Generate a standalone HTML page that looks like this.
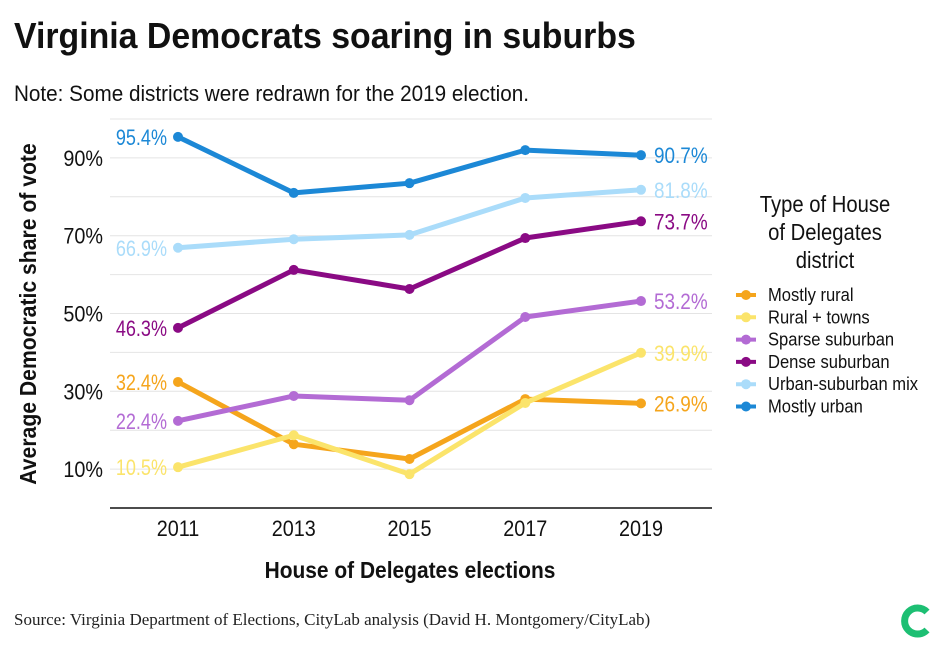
<!DOCTYPE html>
<html><head><meta charset="utf-8"><style>
body{margin:0;background:#fff;width:940px;height:648px;overflow:hidden;font-family:"Liberation Sans",sans-serif}
svg text{font-family:"Liberation Sans",sans-serif}
</style></head><body>
<svg id="svg" width="940" height="648">
<text class="cz" data-f="0.94" x="14" y="48" font-size="36" font-weight="bold" fill="#111">Virginia Democrats soaring in suburbs</text>
<text class="cz" data-f="0.94" x="14" y="101" font-size="22" fill="#111">Note: Some districts were redrawn for the 2019 election.</text>
<g id="grid"></g>
<g id="series"></g>
<text class="cz" data-f="0.92" transform="translate(36,314) rotate(-90)" text-anchor="middle" font-size="23" font-weight="bold" fill="#111">Average Democratic share of vote</text>
<text class="cz" data-f="0.91" x="410" y="578" text-anchor="middle" font-size="23" font-weight="bold" fill="#111">House of Delegates elections</text>
<g>
<text class="cz" data-f="0.88" x="825" y="212" text-anchor="middle" font-size="23" fill="#111">Type of House</text>
<text class="cz" data-f="0.88" x="825" y="240" text-anchor="middle" font-size="23" fill="#111">of Delegates</text>
<text class="cz" data-f="0.88" x="825" y="268" text-anchor="middle" font-size="23" fill="#111">district</text>
</g>
<g id="legend"></g>
<text x="14" y="625" font-size="17" fill="#222" style="font-family:'Liberation Serif',serif">Source: Virginia Department of Elections, CityLab analysis (David H. Montgomery/CityLab)</text>
<path d="M927 612 A13 13 0 1 0 927 630" fill="none" stroke="#1dbf73" stroke-width="7"/>
</svg>
<script>
const years=[2011,2013,2015,2017,2019];
const yTicks=[10,30,50,70,90];
const names=["Mostly rural","Rural + towns","Sparse suburban","Dense suburban","Urban-suburban mix","Mostly urban"];
const colors=["#f5a51c","#fbe46b","#b36bd4","#8a0a84","#aadcfa","#1c88d6"];
const rural=[32.4,16.4,12.6,28.0,26.9];
const ruralTowns=[10.5,18.7,8.7,27.0,39.9];
const sparse=[22.4,28.8,27.7,49.1,53.2];
const dense=[46.3,61.2,56.3,69.4,73.7];
const urbSub=[66.9,69.1,70.2,79.7,81.8];
const urban=[95.4,81.0,83.5,92.0,90.7];
const seriesVals=[rural,ruralTowns,sparse,dense,urbSub,urban];
const NS="http://www.w3.org/2000/svg";
const xS=y=>178+(y-2011)/8*463;
const yS=v=>508-3.89*v;
function mk(t,a,p){const e=document.createElementNS(NS,t);for(const k in a)e.setAttribute(k,a[k]);p.appendChild(e);return e;}
const grid=document.getElementById('grid');
for(let v=10;v<=100;v+=10){const l=mk('line',{x1:110,x2:712,y1:yS(v),y2:yS(v),stroke:'#e4e4e4','stroke-width':1},grid);

}
const ax=mk('line',{x1:110,x2:712,y1:508,y2:508,stroke:'#111','stroke-width':1.5},grid);


yTicks.forEach(v=>{const t=mk('text',{x:103,y:yS(v)+8,'text-anchor':'end','font-size':22,fill:'#111',class:'cz','data-f':0.9},grid);t.textContent=v+'%';

});
years.forEach(y=>{const t=mk('text',{x:xS(y),y:536,'text-anchor':'middle','font-size':22,fill:'#111',class:'cz','data-f':0.9},grid);t.textContent=y;

});
const sg=document.getElementById('series');
seriesVals.forEach((vals,i)=>{
const c=colors[i];
const pl=mk('polyline',{points:vals.map((v,j)=>xS(years[j])+','+yS(v)).join(' '),fill:'none',stroke:c,'stroke-width':5,'stroke-linejoin':'round'},sg);


vals.forEach((v,j)=>{const d=mk('circle',{cx:xS(years[j]),cy:yS(v),r:5,fill:c},sg);

});
const a=mk('text',{x:167,y:yS(vals[0])+8,'text-anchor':'end','font-size':22,fill:c,class:'cz','data-f':0.82},sg);a.textContent=vals[0].toFixed(1)+'%';


const b=mk('text',{x:654,y:yS(vals[4])+8,'font-size':22,fill:c,class:'cz','data-f':0.86},sg);b.textContent=vals[4].toFixed(1)+'%';


});
const lg=document.getElementById('legend');
names.forEach((n,i)=>{const y=295+i*22.3;
const l=mk('line',{x1:736,x2:756,y1:y,y2:y,stroke:colors[i],'stroke-width':4},lg);


const c=mk('circle',{cx:746,cy:y,r:5,fill:colors[i]},lg);


const t=mk('text',{x:768,y:y+6,'font-size':18,fill:'#111',class:'cz','data-f':0.92},lg);t.textContent=n;

});
document.querySelectorAll('text.cz').forEach(t=>{const w=t.getComputedTextLength();t.setAttribute('textLength',w*parseFloat(t.getAttribute('data-f')));t.setAttribute('lengthAdjust','spacingAndGlyphs');});
</script>
</body></html>
